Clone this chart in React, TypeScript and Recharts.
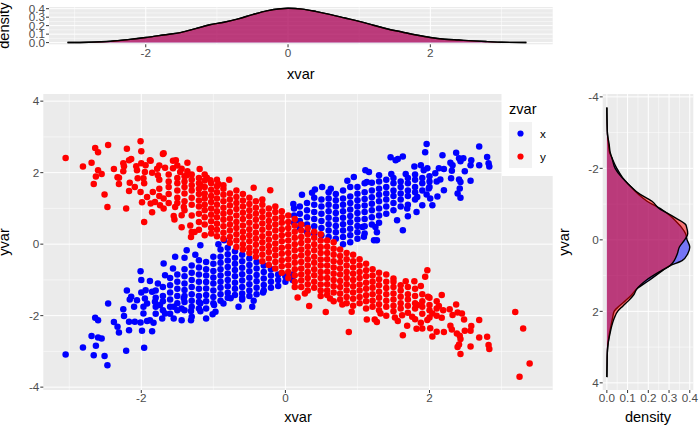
import React from "react";
import { ComposedChart, ScatterChart, Scatter, Area, XAxis, YAxis, CartesianGrid, Label } from "recharts";

const FONT = "'Liberation Sans', Arial, sans-serif";
const xMajor = [-2, 0, 2];
const xMinor = [-3, -1, 1, 3];
const yMajor = [-4, -2, 0, 2, 4];
const yMinor = [-3, -1, 1, 3];
const densityTicks = [0, 0.1, 0.2, 0.3, 0.4];
const densityMinor = [0.05, 0.15, 0.25, 0.35];
const legendItems = [{ name: "x", color: "#0000ff" }, { name: "y", color: "#ff0000" }];

// marginal density of xvar: [xvar, density]
const topX = [-3.1,-2.8,-2.5,-2.25,-2,-1.75,-1.5,-1.3,-1.1,-0.9,-0.7,-0.5,-0.3,-0.1,0,0.2,0.4,0.6,0.8,1,1.2,1.4,1.6,1.8,2,2.2,2.4,2.6,2.8,3,3.35];
const topBlue = [0.001,0.005,0.015,0.035,0.06,0.09,0.12,0.165,0.21,0.24,0.28,0.33,0.375,0.4,0.405,0.395,0.365,0.33,0.29,0.25,0.205,0.16,0.125,0.09,0.06,0.04,0.03,0.02,0.012,0.004,0.001];
const topRed = [0.001,0.005,0.016,0.035,0.06,0.09,0.121,0.165,0.21,0.24,0.28,0.33,0.375,0.4,0.405,0.395,0.365,0.33,0.29,0.25,0.205,0.16,0.125,0.09,0.06,0.04,0.03,0.02,0.012,0.004,0.001];

// marginal density of yvar
const rightY = [3.84,3.5,3.2,3,2.8,2.6,2.4,2.2,2,1.85,1.7,1.55,1.37,1.13,0.855,0.72,0.58,0.39,0.2,0,-0.17,-0.35,-0.43,-0.6,-0.76,-0.85,-1.08,-1.27,-1.55,-1.74,-2,-2.3,-2.45,-2.68,-2.96,-3.3,-3.7];
const rightBlue = [0,0.001,0.002,0.004,0.008,0.013,0.02,0.027,0.035,0.06,0.09,0.118,0.145,0.205,0.27,0.305,0.363,0.39,0.4,0.387,0.38,0.36,0.348,0.32,0.287,0.265,0.194,0.153,0.105,0.076,0.048,0.024,0.013,0.008,0.003,0.001,0];
const rightRed = [0,0.001,0.002,0.004,0.009,0.016,0.024,0.035,0.052,0.078,0.105,0.128,0.145,0.19,0.265,0.305,0.325,0.34,0.35,0.375,0.39,0.385,0.38,0.335,0.287,0.258,0.218,0.161,0.105,0.073,0.04,0.024,0.016,0.011,0.003,0.001,0];

// scatter points
const redLoose: [number, number][] = [[-3.05,2.41],[-2.81,2.17],[-2.69,2.28],[-2.64,2.69],[-2.6,2.57],[-2.46,2.77],[-2.6,2.07],[-2.55,1.96],[-2.63,1.89],[-2.66,1.68],[-2.51,1.39],[-2.47,1.04],[-2.21,1],[-2.38,2.1],[-2.33,1.87],[-2.31,1.86],[-2.31,1.68],[-2.2,2.67],[-2.17,2.35],[-2.14,2.38],[-2.25,2.26],[-2.24,2.18],[-2.25,2.04],[-2.16,1.72],[-2.17,1.49],[-2.09,1.6],[-2.01,2.88],[-2,2.6],[-2,2.26],[-1.94,2.21],[-1.87,2.33],[-1.88,2.35],[-1.69,2.54],[-1.7,2.52],[-1.56,2.33],[-1.52,2.35],[-1.36,2.28],[-1.67,2.14],[-1.56,2.12],[-1.44,2.11],[-1.46,2.02],[-1.19,2.1],[-1.36,2.04],[-1.37,1.93],[-2.07,2.18],[-2.06,2.07],[-1.95,2.02],[-1.85,2],[-1.78,2.11],[-1.77,1.93],[-1.97,1.84],[-2.05,1.84],[-1.96,1.7],[-2.01,1.46],[-1.99,1.17],[-1.92,1.32],[-1.85,0.89],[-1.96,0.62],[-1.87,1.14],[-1.81,1.18],[-1.74,1.09],[-1.69,1.28],[-1.84,1.46],[-1.69,1],[-1.55,0.79],[-1.54,0.69],[-1.44,0.47],[-1.44,0.81],[-1.41,1.04],[-1.53,1.04],[-1.32,0.52],[-1.3,0.34],[-1.31,0.2],[-1.26,0.34],[-0.78,1.8],[-0.44,1.58],[-0.21,1.51],[-0.86,1.65],[-0.93,1.68],[-1.09,1.86],[-1.04,1.79],[-1.18,1.65],[3.19,-1.9],[3.3,-2.36],[3.39,-3.34],[3.25,-3.71],[2.83,-2.93],[2.82,-2.82],[2.8,-2.59],[2.69,-2.61],[2.69,-2.12],[2.57,-2.86],[2.43,-3.07],[2.39,-2.88],[2.41,-2.81],[2.43,-2.65],[2.42,-2.56],[2.38,-2.5],[2.49,-2.42],[2.57,-2.42],[2.58,-2.29],[2.31,-2.39],[2.29,-2.28],[2.2,-2.46],[2.1,-2.45],[2.04,-2.58],[2.01,-2.35],[1.9,-2.36],[1.82,-2.37],[1.88,-2.2],[1.69,-2.28],[1.63,-2.55],[0.88,-2.46],[0.56,-1.9],[0.33,-1.73],[0.17,-1.49],[0.27,-1.38],[1.13,-2.11],[1.24,-2.11],[1.27,-2.18],[1.56,-2.15],[1.52,-2.05],[0.92,-1.89],[0.79,-1.69],[0.62,-1.52],[2.17,-1.42],[2.37,-1.69],[2.28,-1.82],[2.32,-1.98],[2.39,-1.91],[2.45,-1.94],[2.48,-2.11],[2.13,-1.73],[2.19,-1.85],[2.17,-2.06],[2.04,-1.94],[1.97,-2.12],[1.97,-0.73],[1.94,-0.91],[1.79,-1.04],[1.67,-1.04],[1.5,-0.96],[1.88,-1.17],[1.98,-1.47],[1.83,-1.7],[1.62,-1.99],[1.76,-2.03],[1.32,-1.94]];
const redColumns: number[][] = [
[-1.75,2.2,1.8,1.55,1.35],[-1.62,1.95,1.75,1.6,1.4,1.15],[-1.5,2.2,1.85,1.7,1.5,1.3,1.15],[-1.4,1.9,1.75,1.6,1.42,1.2,0.95],[-1.3,1.95,1.8,1.65,1.5,1.3,1.1,0.8],[-1.2,1.85,1.7,1.55,1.4,1.22,1.05,0.85,0.62,0.4],
[-1.12,1.95,1.78,1.6,1.42,1.28,1.1,0.95,0.75,0.55,0.25],[-1.03,1.7,1.52,1.35,1.18,1,0.82,0.64,0.45,0.3],[-0.95,1.8,1.62,1.45,1.28,1.1,0.92,0.75,0.57,0.4,0.22],[-0.86,1.55,1.38,1.2,1.02,0.85,0.68,0.5,0.32,0.15],[-0.77,1.42,1.25,1.08,0.9,0.72,0.55,0.38,0.2,0.04],[-0.68,1.5,1.32,1.15,0.98,0.8,0.62,0.45,0.28,0.1,-0.08],[-0.59,1.4,1.22,1.05,0.88,0.7,0.52,0.35,0.18,0,-0.15],[-0.5,1.3,1.12,0.95,0.78,0.6,0.42,0.25,0.08,-0.1,-0.25],[-0.41,1.2,1.02,0.85,0.68,0.5,0.32,0.15,-0.02,-0.2,-0.35],[-0.32,1.25,1.1,0.92,0.75,0.58,0.4,0.22,0.05,-0.12,-0.3,-0.48],[-0.23,1,0.82,0.65,0.48,0.3,0.12,-0.05,-0.22,-0.4,-0.58],[-0.14,1.05,0.9,0.72,0.55,0.38,0.2,0.02,-0.15,-0.32,-0.5,-0.68],[-0.05,0.92,0.75,0.6,0.42,0.25,0.08,-0.1,-0.27,-0.45,-0.62,-0.8],[0.04,0.8,0.62,0.45,0.28,0.1,-0.07,-0.25,-0.42,-0.6,-0.78,-0.95],[0.13,0.7,0.52,0.35,0.18,0,-0.17,-0.35,-0.52,-0.7,-0.87,-1.05,-1.2],[0.22,0.55,0.38,0.2,0.03,-0.15,-0.32,-0.5,-0.68,-0.85,-1.02,-1.2],[0.31,0.45,0.28,0.1,-0.07,-0.25,-0.42,-0.6,-0.78,-0.95,-1.12,-1.3],[0.4,0.35,0.18,0,-0.17,-0.35,-0.52,-0.7,-0.87,-1.05,-1.22],[0.49,0.28,0.1,-0.08,-0.25,-0.43,-0.6,-0.78,-0.95,-1.13,-1.3,-1.45],[0.58,0.1,-0.07,-0.25,-0.42,-0.6,-0.77,-0.95,-1.12,-1.3,-1.42],[0.67,0.05,-0.13,-0.3,-0.48,-0.65,-0.83,-1,-1.18,-1.35,-1.6],[0.76,-0.15,-0.33,-0.5,-0.68,-0.85,-1.03,-1.2,-1.38,-1.55],[0.85,-0.25,-0.42,-0.6,-0.78,-0.95,-1.12,-1.3,-1.48,-1.65],[0.94,-0.3,-0.48,-0.65,-0.83,-1,-1.18,-1.35,-1.53,-1.72],[1.03,-0.42,-0.6,-0.78,-0.95,-1.13,-1.3,-1.48,-1.65],[1.12,-0.55,-0.73,-0.9,-1.08,-1.25,-1.43,-1.6,-1.8],[1.21,-0.7,-0.88,-1.05,-1.22,-1.4,-1.58,-1.75],[1.3,-0.8,-0.98,-1.15,-1.33,-1.5,-1.68,-1.85],[1.4,-0.85,-1.05,-1.23,-1.4,-1.58,-1.75,-2],[1.5,-1.05,-1.2,-1.38,-1.55,-1.72,-1.88],[1.6,-1.15,-1.3,-1.47,-1.65,-1.8],[1.7,-1.2,-1.4,-1.55,-1.72,-1.92],[1.8,-1.25,-1.45,-1.65,-1.8,-2.1],[1.9,-1.4,-1.6,-1.75,-1.95],[2,-1.5,-1.7,-1.85,-2.05],[2.1,-1.6,-1.8,-2]];
const blueLoose: [number, number][] = [[-3.05,-3.09],[-2.81,-2.89],[-2.66,-3.11],[-2.63,-2.84],[-2.51,-3.13],[-2.47,-3.39],[-2.21,-2.98],[-1.96,-2.9],[-2.69,-2.57],[-2.6,-2.61],[-2.55,-2.64],[-2.64,-2.06],[-2.6,-2.13],[-2.46,-1.66],[-2.38,-2.18],[-2.33,-2.31],[-2.31,-2.47],[-2.17,-2.41],[-1.99,-2.42],[-1.85,-2.44],[-2.25,-1.82],[-2.24,-2.01],[-2.2,-1.3],[-2.16,-1.55],[-2.14,-1.47],[-2.17,-2.17],[-2.09,-2.17],[-2.01,-0.76],[-2,-1],[-1.88,-1.03],[-2,-1.35],[-1.94,-1.29],[-1.85,-1.33],[-1.67,-0.87],[-1.95,-1.52],[-2.06,-1.57],[-2.1,-1.75],[-1.97,-1.75],[-1.92,-1.66],[-1.97,-1.94],[-2.01,-2.19],[-1.88,-2.13],[-1.83,-2.2],[-1.92,-2.15],[-1.69,-0.54],[-1.56,-0.68],[-1.77,-1.1],[-1.81,-1.61],[-1.74,-1.7],[-1.67,-1.94],[-1.71,-2.08],[-1.55,-2.08],[-1.44,-2.13],[-1.31,-2.13],[-1.3,-2.03],[-1.31,-1.87],[-1.1,-2.08],[-0.97,-1.89],[-1.01,-1.96],[-0.65,-1.75],[-0.46,-1.75],[-0.44,-1.58],[-0.6,-1.55],[-0.86,-1.66],[-0.31,-1.35],[-0.76,-1.51],[-1.44,-1.8],[-1.55,-1.75],[-1.18,-1.88],[-1.18,-1.65],[-1.41,-1.51],[-0.99,-1.7],[-1.37,-0.17],[-1.18,-0.03],[-0.85,0.11],[-0.93,0],[-1.53,-0.35],[-1.4,-0.38],[-1.25,-0.3],[2.69,2.73],[2.8,2.44],[2.82,2.26],[2.83,2.17],[2.69,2.21],[2.58,2.35],[2.57,2.21],[2.57,1.77],[2.49,2.04],[2.43,1.3],[2.39,1.42],[2.42,1.56],[2.43,1.74],[2.41,1.81],[2.3,1.84],[2.31,2.05],[2.29,2.28],[2.32,2.21],[2.37,2.56],[2.41,2.4],[2.47,2.4],[2.43,2.32],[2.18,2.49],[1.96,2.8],[1.94,2.57],[1.88,2.21],[1.92,2.07],[1.79,2.17],[1.97,2.12],[2.08,1.98],[2.13,2.12],[2.2,2.1],[1.63,2.45],[1.56,2.38],[1.53,2.35],[1.46,2.43],[1.11,2.07],[1.16,2.02],[0.95,1.88],[0.86,1.77],[1.13,1.74],[1.3,1.93],[1.47,1.96],[1.67,1.96],[0.51,1.6],[0.63,1.55],[0.41,1.53],[0.37,1.44],[0.23,1.38],[0.11,1.12],[1.63,0.39],[1.27,0.11],[1.23,0.11],[1.27,0.33],[1.55,0.67],[1.7,0.78],[1.82,0.9],[2.04,1.09],[1.9,1.09],[2.11,1.33],[2.2,1.51],[2.01,1.28],[1.96,1.39],[2.15,1.81],[1.99,1.56],[1.83,1.32],[1.69,1],[1.25,0.48],[1.09,0.21],[1.07,0.48]];
const blueColumns: number[][] = [
[-1.8,-1.3,-1.5,-1.75,-1.95],[-1.7,-1.2,-1.45,-1.6,-1.85],[-1.6,-0.95,-1.15,-1.35,-1.55,-1.75,-1.95],[-1.5,-0.85,-1.05,-1.25,-1.45,-1.65,-1.85],[-1.4,-0.7,-0.9,-1.1,-1.28,-1.45,-1.62,-1.85],[-1.3,-0.6,-0.8,-1,-1.2,-1.4,-1.58,-1.75],[-1.2,-0.45,-0.65,-0.85,-1.05,-1.25,-1.45,-1.62,-1.8],[-1.1,-0.5,-0.7,-0.88,-1.06,-1.24,-1.42,-1.6,-1.8],[-1,-0.35,-0.55,-0.75,-0.93,-1.1,-1.3,-1.48,-1.65],[-0.9,-0.15,-0.35,-0.52,-0.7,-0.88,-1.05,-1.22,-1.4,-1.58],[-0.8,-0.1,-0.28,-0.46,-0.64,-0.82,-1,-1.18,-1.36,-1.5],[-0.7,-0.2,-0.38,-0.55,-0.72,-0.9,-1.08,-1.25,-1.42],[-0.6,-0.3,-0.48,-0.66,-0.84,-1.02,-1.2,-1.38,-1.5],[-0.5,-0.4,-0.58,-0.76,-0.94,-1.12,-1.3,-1.45],[-0.4,-0.5,-0.68,-0.86,-1.04,-1.22,-1.4],[-0.3,-0.6,-0.78,-0.96,-1.14,-1.3],[-0.2,-0.7,-0.88,-1.05,-1.22],[-0.1,-0.85,-1,-1.17],[0,-0.9,-1.05],[0.1,-1,-0.85],
[0.12,0.6,0.8,1],[0.2,0.45,0.65,0.85,1.05],[0.3,0.35,0.55,0.75,0.95,1.15],[0.4,0.3,0.5,0.7,0.9,1.1,1.3],[0.5,0.25,0.45,0.65,0.85,1.05,1.25],[0.6,0.2,0.38,0.56,0.74,0.92,1.1,1.28,1.45],[0.7,0.15,0.33,0.51,0.69,0.87,1.05,1.23,1.4],[0.8,0,0.2,0.38,0.56,0.74,0.92,1.1,1.28,1.5],[0.9,0.05,0.25,0.43,0.61,0.79,0.97,1.15,1.33,1.6],[1,0.15,0.33,0.51,0.69,0.87,1.05,1.23,1.41,1.6],[1.1,0.3,0.5,0.7,0.9,1.08,1.26,1.45,1.7],[1.2,0.55,0.75,0.95,1.13,1.31,1.5,1.72],[1.3,0.6,0.8,1,1.2,1.38,1.55,1.75],[1.4,0.85,1.05,1.25,1.42,1.6,1.8],[1.5,0.95,1.15,1.35,1.5,1.7,1.85],[1.6,1.05,1.25,1.42,1.6,1.75],[1.7,1.1,1.35,1.5,1.7,1.85],[1.8,1.25,1.45,1.6,1.8,1.95],[1.9,1.5,1.7,1.85],[2,1.6,1.75,1.9],[2.1,1.75]];

const fromColumns = (cols: number[][]) => cols.flatMap(([x, ...ys]) => ys.map((y) => ({ x, y })));
const fromPairs = (pairs: [number, number][]) => pairs.map(([x, y]) => ({ x, y }));
const bluePoints = [...fromPairs(blueLoose), ...fromColumns(blueColumns)];
const redPoints = [...fromPairs(redLoose), ...fromColumns(redColumns)];
const topData = topX.map((x, i) => ({ x, blue: topBlue[i], red: topRed[i] }));
const rightData = rightY.map((y, i) => ({ y, blue: rightBlue[i], red: rightRed[i] }));

const tickStyle = { fontSize: 11.7, fill: "#4d4d4d", fontFamily: FONT };
const tickLine = { stroke: "#333333", strokeWidth: 1 };
const titleStyle = { fontSize: 14.6, fill: "#000000", fontFamily: FONT };
const BG = "#ebebeb";
const fmt1 = (v: number) => v.toFixed(1);

const dot = (color: string) => (p: any) => <circle cx={p.cx} cy={p.cy} r={3.25} fill={color} />;

export default function App() {
  return (
    <div style={{ position: "absolute", left: 0, top: 0, width: 700, height: 432, background: "#fff", overflow: "hidden", fontFamily: FONT }}>
      <div style={{ position: "absolute", left: 0, top: 0 }}>
        <ComposedChart width={560} height={90} data={topData} margin={{ top: 7, right: 7.3, bottom: 0, left: 0 }}>
          <CartesianGrid fill={BG} stroke="#ffffff" strokeWidth={1} verticalValues={xMajor} horizontalValues={densityTicks} />
          <CartesianGrid fill="none" stroke="#ffffff" strokeWidth={0.5} verticalValues={xMinor} horizontalValues={densityMinor} />
          <XAxis dataKey="x" type="number" domain={[-3.36, 3.72]} ticks={xMajor} allowDataOverflow interval={0} height={45.7} axisLine={false} tickSize={3} tickLine={tickLine} tick={tickStyle} tickMargin={1}>
            <Label value="xvar" position="insideBottom" offset={11} style={titleStyle} />
          </XAxis>
          <YAxis type="number" domain={[-0.02, 0.42]} ticks={densityTicks} allowDataOverflow interval={0} width={49} axisLine={false} tickSize={3} tickLine={tickLine} tick={tickStyle} tickMargin={1} tickFormatter={fmt1}>
            <Label value="density" angle={-90} position="insideLeft" offset={0} dx={4} style={{ ...titleStyle, textAnchor: "middle" }} />
          </YAxis>
          <Area dataKey="blue" type="monotone" fill="#0000ff" fillOpacity={0.5} stroke="#000000" strokeWidth={1.4} isAnimationActive={false} dot={false} />
          <Area dataKey="red" type="monotone" fill="#ff0000" fillOpacity={0.5} stroke="#000000" strokeWidth={1.4} isAnimationActive={false} dot={false} />
        </ComposedChart>
      </div>

      <div style={{ position: "absolute", left: 0, top: 90 }}>
        <ScatterChart width={560} height={342} margin={{ top: 4, right: 7.3, bottom: 0, left: 0 }}>
          <CartesianGrid fill={BG} stroke="#ffffff" strokeWidth={1} verticalValues={xMajor} horizontalValues={yMajor} />
          <CartesianGrid fill="none" stroke="#ffffff" strokeWidth={0.5} verticalValues={xMinor} horizontalValues={yMinor} />
          <XAxis dataKey="x" type="number" domain={[-3.36, 3.71]} ticks={xMajor} allowDataOverflow interval={0} height={42} axisLine={false} tickSize={3} tickLine={tickLine} tick={tickStyle} tickMargin={1}>
            <Label value="xvar" position="insideBottom" offset={10} style={titleStyle} />
          </XAxis>
          <YAxis dataKey="y" type="number" domain={[-4.08, 4.2]} ticks={yMajor} allowDataOverflow interval={0} width={43.3} axisLine={false} tickSize={3} tickLine={tickLine} tick={tickStyle} tickMargin={1}>
            <Label value="yvar" angle={-90} position="insideLeft" offset={0} dx={4} style={{ ...titleStyle, textAnchor: "middle" }} />
          </YAxis>
          <Scatter data={bluePoints} fill="#0000ff" shape={dot("#0000ff")} isAnimationActive={false} />
          <Scatter data={redPoints} fill="#ff0000" shape={dot("#ff0000")} isAnimationActive={false} />
        </ScatterChart>
      </div>

      <div style={{ position: "absolute", left: 502, top: 94, width: 51, height: 82, background: "#ffffff" }}>
        <div style={{ position: "absolute", left: 7, top: 7, fontSize: 14.6, lineHeight: "17px", color: "#000" }}>zvar</div>
        {legendItems.map((item, i) => (
          <React.Fragment key={item.name}>
            <div style={{ position: "absolute", left: 7, top: 28 + i * 23, width: 23, height: 23, background: "#f2f2f2" }}>
              <svg width={23} height={23} style={{ display: "block" }}>
                <circle cx={11.5} cy={11.5} r={3.1} fill={item.color} />
              </svg>
            </div>
            <div style={{ position: "absolute", left: 38, top: 33 + i * 23, fontSize: 11.7, lineHeight: "13px", color: "#000" }}>{item.name}</div>
          </React.Fragment>
        ))}
      </div>

      <div style={{ position: "absolute", left: 560, top: 90 }}>
        <ComposedChart width={140} height={342} layout="vertical" data={rightData} margin={{ top: 4, right: 6.7, bottom: 0, left: 0 }}>
          <CartesianGrid fill={BG} stroke="#ffffff" strokeWidth={1} verticalValues={densityTicks} horizontalValues={yMajor} />
          <CartesianGrid fill="none" stroke="#ffffff" strokeWidth={0.5} verticalValues={densityMinor} horizontalValues={yMinor} />
          <XAxis type="number" domain={[-0.02, 0.417]} ticks={densityTicks} allowDataOverflow interval={0} height={42} axisLine={false} tickSize={3} tickLine={tickLine} tick={tickStyle} tickMargin={1} tickFormatter={fmt1}>
            <Label value="density" position="insideBottom" offset={10} style={titleStyle} />
          </XAxis>
          <YAxis dataKey="y" type="number" domain={[-4.08, 4.2]} ticks={yMajor} allowDataOverflow interval={0} width={42.7} axisLine={false} tickSize={3} tickLine={tickLine} tick={tickStyle} tickMargin={1}>
            <Label value="yvar" angle={-90} position="insideLeft" offset={0} dx={4} style={{ ...titleStyle, textAnchor: "middle" }} />
          </YAxis>
          <Area dataKey="blue" type="monotone" fill="#0000ff" fillOpacity={0.5} stroke="#000000" strokeWidth={1.4} isAnimationActive={false} dot={false} />
          <Area dataKey="red" type="monotone" fill="#ff0000" fillOpacity={0.5} stroke="#000000" strokeWidth={1.4} isAnimationActive={false} dot={false} />
        </ComposedChart>
      </div>
    </div>
  );
}
